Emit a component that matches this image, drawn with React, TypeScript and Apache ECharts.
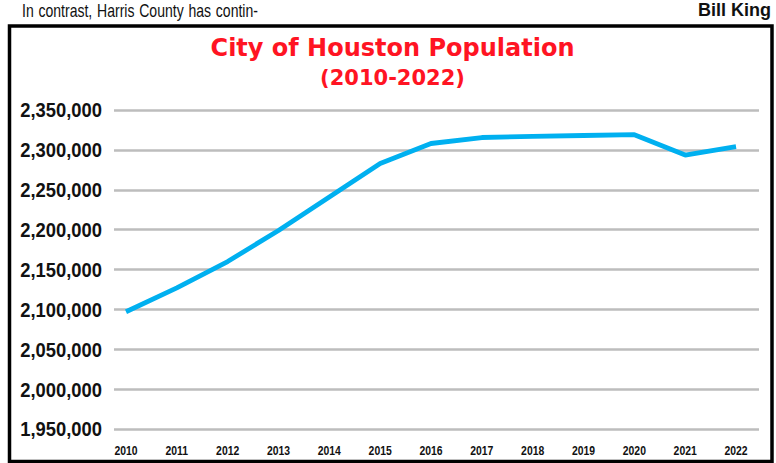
import React, { useEffect, useRef } from "react";
import * as echarts from "echarts";

const years = [2010, 2011, 2012, 2013, 2014, 2015, 2016, 2017, 2018, 2019, 2020, 2021, 2022];
const population = [2097000, 2127000, 2160000, 2199000, 2241000, 2283000, 2308000, 2315500, 2317000, 2318000, 2319000, 2293500, 2304000];
const yTicks = [1950000, 2000000, 2050000, 2100000, 2150000, 2200000, 2250000, 2300000, 2350000];
const titleLines = ["City of Houston Population", "(2010-2022)"];
const headerLeftWords = ["In", "contrast,", "Harris", "County", "has", "contin-"];
const headerRight = "Bill King";

const SANS = "'Liberation Sans', Arial, Helvetica, sans-serif";
const X_MIN = 2009.764;
const X_MAX = 2022.452;

function measure(text: string, font: string): number {
  const c = document.createElement("canvas").getContext("2d");
  if (!c) return text.length * 8;
  c.font = font;
  return c.measureText(text).width;
}

export default function App() {
  const ref = useRef<HTMLDivElement>(null);
  useEffect(() => {
    if (!ref.current) return;
    const chart = echarts.init(ref.current, null, { renderer: "svg" });
    chart.setOption({
      animation: false,
      backgroundColor: "#ffffff",
      grid: { left: 114, right: 17, top: 110, bottom: 34 },
      xAxis: {
        type: "value",
        min: X_MIN,
        max: X_MAX,
        axisLine: { show: false },
        axisTick: { show: false },
        splitLine: { show: false },
        axisLabel: { show: false },
      },
      yAxis: {
        type: "value",
        min: yTicks[0],
        max: yTicks[yTicks.length - 1],
        interval: 50000,
        axisLine: { show: false },
        axisTick: { show: false },
        splitLine: { lineStyle: { color: "#bdbdbd", width: 2.5 } },
        axisLabel: { show: false },
      },
      series: [
        {
          type: "line",
          data: years.map((y, i) => [y, population[i]]),
          symbol: "none",
          lineStyle: { color: "#00b0f0", width: 4.8 },
          itemStyle: { color: "#00b0f0" },
        },
      ],
    });

    const gridLeft = chart.convertToPixel({ xAxisIndex: 0 }, X_MIN) as number;
    const gridBottom = chart.convertToPixel({ yAxisIndex: 0 }, yTicks[0]) as number;

    const yLabelEls = yTicks.map((v) => ({
      type: "text",
      x: gridLeft - 12,
      y: chart.convertToPixel({ yAxisIndex: 0 }, v) as number,
      scaleX: 0.875,
      style: {
        text: v.toLocaleString("en-US"),
        fill: "#111",
        font: "bold 21px " + SANS,
        align: "right",
        verticalAlign: "middle",
        textAlign: "right",
        textVerticalAlign: "middle",
      },
      silent: true,
    }));

    const xLabelEls = years.map((yr) => ({
      type: "text",
      x: chart.convertToPixel({ xAxisIndex: 0 }, yr) as number,
      y: gridBottom + 15,
      scaleX: 0.8,
      style: {
        text: String(yr),
        fill: "#111",
        font: "bold 13px " + SANS,
        align: "center",
        verticalAlign: "top",
        textAlign: "center",
        textVerticalAlign: "top",
      },
      silent: true,
    }));

    // justified, condensed header line
    const headerFont = "18px " + SANS;
    const headerScale = 0.78;
    const hx0 = 22;
    const hx1 = 258;
    const widths = headerLeftWords.map((w) => measure(w, headerFont) * headerScale);
    const total = widths.reduce((a, b) => a + b, 0);
    const gap = Math.max(3, (hx1 - hx0 - total) / (headerLeftWords.length - 1));
    let cx = hx0;
    const headerEls = headerLeftWords.map((w, i) => {
      const el = {
        type: "text",
        x: cx,
        y: 10,
        scaleX: headerScale,
        style: {
          text: w,
          fill: "#111",
          font: headerFont,
          align: "left",
          verticalAlign: "middle",
          textAlign: "left",
          textVerticalAlign: "middle",
        },
        silent: true,
      };
      cx += widths[i] + gap;
      return el;
    });

    chart.setOption({
      graphic: [
        {
          type: "rect",
          shape: { x: 9.5, y: 26, width: 762.5, height: 435.5 },
          style: { fill: "none", stroke: "#000", lineWidth: 3.5 },
          silent: true,
        },
        ...headerEls,
        {
          type: "text",
          x: 771,
          y: 9.5,
          style: {
            text: headerRight,
            fill: "#111",
            font: "bold 18px " + SANS,
            align: "right",
            verticalAlign: "middle",
            textAlign: "right",
            textVerticalAlign: "middle",
          },
          silent: true,
        },
        {
          type: "text",
          x: 392.5,
          y: 48,
          style: {
            text: titleLines[0],
            fill: "#ff1423",
            font: "bold 24px 'DejaVu Sans', sans-serif",
            align: "center",
            verticalAlign: "middle",
            textAlign: "center",
            textVerticalAlign: "middle",
          },
          silent: true,
        },
        {
          type: "text",
          x: 392.5,
          y: 78,
          style: {
            text: titleLines[1],
            fill: "#ff1423",
            font: "bold 21px 'DejaVu Sans', sans-serif",
            align: "center",
            verticalAlign: "middle",
            textAlign: "center",
            textVerticalAlign: "middle",
          },
          silent: true,
        },
        ...yLabelEls,
        ...xLabelEls,
      ],
    });
    return () => chart.dispose();
  }, []);
  return (
    <div
      ref={ref}
      style={{ position: "fixed", left: 0, top: 0, width: 776, height: 463 }}
    />
  );
}
